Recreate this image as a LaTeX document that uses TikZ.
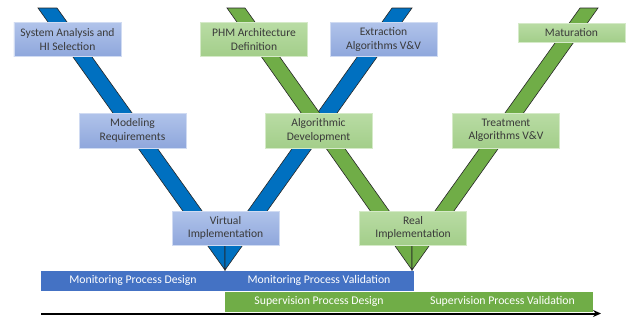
\documentclass[tikz,border=0pt]{standalone}
\usepackage{fontspec}
\setmainfont{Carlito}
\usetikzlibrary{arrows.meta}
\definecolor{vblue}{HTML}{0070C0}
\definecolor{vgreen}{HTML}{70AD47}
\definecolor{barblue}{HTML}{4472C4}
\definecolor{bxbluetop}{HTML}{B0C3EA}
\definecolor{bxbluebot}{HTML}{8FA7DC}
\definecolor{bxgreentop}{HTML}{B9DCA4}
\definecolor{bxgreenbot}{HTML}{A3CE8A}
\definecolor{txt}{HTML}{3A3A3A}
\tikzset{
  vband/.style={draw=black!85, line width=0.6bp},
  bbox/.style={draw=bxbluetop!60!white, line width=0.6bp, top color=bxbluetop, bottom color=bxbluebot,
    minimum width=107bp, minimum height=34bp, inner sep=0, align=center, text=txt,
    font=\fontsize{11.6}{13.5}\selectfont},
  gbox/.style={bbox, draw=bxgreentop!60!white, top color=bxgreentop, bottom color=bxgreenbot},
  barb/.style={fill=barblue, draw=barblue, minimum height=19bp, inner sep=0, text=white,
    font=\fontsize{11.8}{13.5}\selectfont},
  barg/.style={barb, fill=vgreen, draw=vgreen}
}
\begin{document}
\begin{tikzpicture}[x=1bp, y=-1bp]
\useasboundingbox (0,0) rectangle (631,320);
\fill[white] (0,0) rectangle (631,320);
% blue V
\draw[vband, fill=vblue] (38,8) -- (57,8) -- (225,243) -- (225,270) -- cycle;
\draw[vband, fill=vblue] (225,270) -- (225,243) -- (392,8) -- (412,8) -- cycle;
% green V
\draw[vband, fill=vgreen] (227,8) -- (245,8) -- (412,243) -- (412,270) -- cycle;
\draw[vband, fill=vgreen] (412,270) -- (412,243) -- (580,8) -- (598,8) -- cycle;
% boxes
\node[bbox] (sys) at (67.5,39.5) {System Analysis and\\HI Selection};
\node[gbox] (phm) at (254,39.5) {PHM Architecture\\Definition};
\node[bbox] (ext) at (383.5,39.5) {Extraction\\Algorithms V\&V};
\node[gbox, minimum height=19bp] (mat) at (571.5,32.5) {Maturation};
\node[bbox, minimum height=35bp] (mod) at (132.5,130.5) {Modeling\\Requirements};
\node[gbox, minimum height=35bp] (alg) at (318.5,130.5) {Algorithmic\\Development};
\node[gbox, minimum height=35bp] (trt) at (506,130.5) {Treatment\\Algorithms V\&V};
\node[bbox] (vir) at (225.5,228) {Virtual\\Implementation};
\node[gbox] (real) at (413,228) {Real\\Implementation};
% bars
\node[barb, minimum width=184bp] (mpd) at (133,280.5) {Monitoring Process Design};
\node[barb, minimum width=188bp] (mpv) at (319,280.5) {Monitoring Process Validation};
\node[barg, minimum width=188bp] (spd) at (319,301.5) {Supervision Process Design};
\node[barg, minimum width=179bp] (spv) at (502.5,301.5) {Supervision Process Validation};
% time arrow
\coordinate (t0) at (41,313.5);
\coordinate (t1) at (601,313.5);
\draw[line width=2bp, -{Stealth[length=8bp, width=7bp]}] (t0) -- (t1);
\end{tikzpicture}
\end{document}
